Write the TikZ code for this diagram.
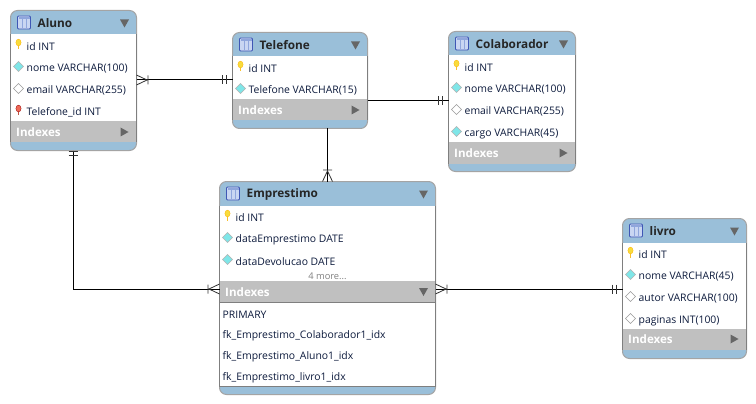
\documentclass[tikz,border=0pt]{standalone}
\usepackage{fontspec}
\setmainfont{Open Sans}
\definecolor{hdr}{HTML}{9ABFD9}
\definecolor{idx}{HTML}{C0C0C0}
\definecolor{edge}{HTML}{A4A4A4}
\definecolor{innerline}{HTML}{7F7F7F}
\definecolor{tri}{HTML}{666666}
\definecolor{ink}{HTML}{0C1A3C}
\definecolor{gold}{HTML}{F8DC3C}
\definecolor{keyred}{HTML}{EE6A58}
\definecolor{cyan2}{HTML}{7FE6E8}
\definecolor{iconfill}{HTML}{C9D6F2}
\definecolor{iconedge}{HTML}{3F57B5}
\definecolor{iconline}{HTML}{8FA6DC}
\tikzset{
  tablebox/.style={draw=edge,line width=1pt,fill=hdr,rounded corners=7pt,inner sep=0pt,outer sep=0pt,anchor=north west},
  rowtxt/.style={anchor=west,inner sep=0pt,font=\fontsize{10.4}{11}\selectfont,text=ink},
  ttl/.style={anchor=west,inner sep=0pt,font=\fontsize{11.8}{12}\selectfont\bfseries,text=black!85},
  idxtxt/.style={anchor=west,inner sep=0pt,font=\fontsize{11.6}{12}\selectfont\bfseries,text=white},
  moretxt/.style={anchor=center,inner sep=0pt,font=\fontsize{9.3}{10}\selectfont,text=black!50},
  rel/.style={line width=1pt,black},
  tickline/.style={line width=0.8pt,black!80},
  pkkey/.pic={
    \fill[gold!70!orange] (-0.9,0) rectangle (0.9,5);
    \fill[gold,draw=orange!60!yellow,line width=0.3pt] (0,-2) ellipse (2.6 and 3.4);
  },
  fkkey/.pic={
    \fill[keyred!80!black] (-0.9,0) rectangle (0.9,5);
    \fill[keyred,draw=red!60!black,line width=0.3pt] (0,-2) ellipse (2.6 and 3.4);
  },
  fulldia/.pic={
    \fill[cyan2,draw=black!30,line width=0.5pt] (-5,0) -- (0,-5) -- (5,0) -- (0,5) -- cycle;
  },
  opendia/.pic={
    \fill[white,draw=black!40,line width=0.6pt] (-5,0) -- (0,-5) -- (5,0) -- (0,5) -- cycle;
  },
  tblicon/.pic={
    \fill[iconfill,draw=iconedge,line width=0.8pt,rounded corners=1pt] (0,0) rectangle (13,13);
    \fill[iconline] (1,1) rectangle (12,3);
    \draw[iconline,line width=0.6pt] (4.5,3) -- (4.5,12) (8.5,3) -- (8.5,12);
  },
  crowfoot/.pic={
    \draw[tickline] (0,-5) -- (10.5,0) -- (0,5) (11.5,-4.5) -- (11.5,4.5);
  },
  twobars/.pic={
    \draw[tickline] (0,-4.5) -- (0,4.5) (4.5,-4.5) -- (4.5,4.5);
  }
}
% name, x1, y1, x2, y2, header bottom, indexes top, indexes bottom, title
\newcommand\ertable[9]{%
  \node[tablebox,minimum width={(#4-#2)*1pt},minimum height={(#5-#3)*1pt}] (#1) at (#2,#3) {};
  \fill[white] (#2,#6) rectangle (#4,#7);
  \fill[idx] (#2,#7) rectangle (#4,#8);
  \ifdim#8pt<\dimexpr#5pt-12pt\relax
    \fill[white] (#2,#8) rectangle (#4,{#5-8});
    \draw[innerline,line width=0.7pt] (#2,#8) -- (#4,#8) (#2,{#5-8}) -- (#4,{#5-8});
    \draw[innerline,line width=1pt] (#2,#8) -- (#2,{#5-8}) (#4,#8) -- (#4,{#5-8});
  \fi
  \draw[innerline,line width=1pt] (#2,#6) -- (#2,#8) (#4,#6) -- (#4,#8);
  \pic at ({#2+7},{#3+5.5}) {tblicon};
  \node[ttl] (#1T) at ({#2+27},{#3+13}) {#9};
  \fill[tri] ({#4-16.5},{#3+9}) -- ({#4-7.5},{#3+9}) -- ({#4-12},{#3+17}) -- cycle;
  \node[idxtxt] (#1I) at ({#2+5.5},{(#7+#8)/2+0.3}) {Indexes};
}
\newcommand\idxright[2]{\fill[tri] ({#1-16},{#2-4.5}) -- ({#1-8},#2) -- ({#1-16},{#2+4.5}) -- cycle;}
\newcommand\idxdown[2]{\fill[tri] ({#1-16.5},{#2-4}) -- ({#1-7.5},{#2-4}) -- ({#1-12},{#2+4}) -- cycle;}
% name, x1, y, icon, text
\newcommand\erow[5]{%
  \pic at ({#2+8},{#3-1.5}) {#4};
  \node[rowtxt] (#1) at ({#2+16},{#3+0.5}) {#5};
}
\begin{document}
\begin{tikzpicture}[x=1pt,y=-1pt]
\useasboundingbox (0,0) rectangle (756,404);
\fill[white] (0,0) rectangle (756,404);

\ertable{aluno}{10.5}{10.5}{136.5}{150.5}{34.5}{121}{142}{Aluno}
\idxright{136.5}{132}
\erow{alunoA}{10.5}{46}{pkkey}{id INT}
\erow{alunoB}{10.5}{68}{fulldia}{nome VARCHAR(100)}
\erow{alunoC}{10.5}{90}{opendia}{email VARCHAR(255)}
\erow{alunoD}{10.5}{112}{fkkey}{Telefone\_id INT}

\ertable{telefone}{232.5}{32.5}{367.5}{128.5}{56.5}{99.5}{120.5}{Telefone}
\idxright{367.5}{110}
\erow{telA}{232.5}{68}{pkkey}{id INT}
\erow{telB}{232.5}{90}{fulldia}{Telefone VARCHAR(15)}

\ertable{colab}{448.5}{31.5}{575.5}{171.5}{55.5}{142.5}{163.5}{Colaborador}
\idxright{575.5}{153}
\erow{colA}{448.5}{67}{pkkey}{id INT}
\erow{colB}{448.5}{89}{fulldia}{nome VARCHAR(100)}
\erow{colC}{448.5}{111}{opendia}{email VARCHAR(255)}
\erow{colD}{448.5}{133}{fulldia}{cargo VARCHAR(45)}

\ertable{emp}{219.5}{181.5}{435.5}{394.5}{205.5}{281}{302.5}{Emprestimo}
\idxdown{435.5}{292}
\erow{empA}{219.5}{217}{pkkey}{id INT}
\erow{empB}{219.5}{239}{fulldia}{dataEmprestimo DATE}
\erow{empC}{219.5}{261}{fulldia}{dataDevolucao DATE}
\node[moretxt] (empM) at (327.5,276.5) {4 more...};
\node[rowtxt] (empI1) at (222.5,314.5) {PRIMARY};
\node[rowtxt] (empI2) at (222.5,335.5) {fk\_Emprestimo\_Colaborador1\_idx};
\node[rowtxt] (empI3) at (222.5,356.5) {fk\_Emprestimo\_Aluno1\_idx};
\node[rowtxt] (empI4) at (222.5,377.5) {fk\_Emprestimo\_livro1\_idx};

\ertable{livro}{622.5}{218.5}{746.5}{358.5}{242.5}{328.5}{350}{livro}
\idxright{746.5}{339}
\erow{livA}{622.5}{254}{pkkey}{id INT}
\erow{livB}{622.5}{276}{fulldia}{nome VARCHAR(45)}
\erow{livC}{622.5}{298}{opendia}{autor VARCHAR(100)}
\erow{livD}{622.5}{320}{opendia}{paginas INT(100)}

% connectors
\coordinate (c1a) at (aluno.east |- 0,80);
\coordinate (c1b) at (telefone.west |- 0,80);
\draw[rel] (c1a) -- (c1b);
\pic at (c1a) {crowfoot};
\pic at ([xshift=-10.5pt]c1b) {twobars};

\coordinate (c2a) at (telefone.east |- 0,101);
\coordinate (c2b) at (colab.west |- 0,101);
\draw[rel] (c2a) -- (c2b);
\pic at ([xshift=-10.5pt]c2b) {twobars};

\coordinate (c3a) at (telefone.south -| 327.5,0);
\coordinate (c3b) at (emp.north -| 327.5,0);
\draw[rel] (c3a) -- (c3b);
\pic[rotate=90] at (c3b) {crowfoot};

\coordinate (c4a) at (aluno.south -| 73,0);
\coordinate (c4b) at (emp.west |- 0,289);
\draw[rel] (c4a) |- (c4b);
\pic[rotate=90] at ([yshift=-5pt]c4a) {twobars};
\pic[rotate=180] at (c4b) {crowfoot};

\coordinate (c5a) at (emp.east |- 0,289);
\coordinate (c5b) at (livro.west |- 0,289);
\draw[rel] (c5a) -- (c5b);
\pic at (c5a) {crowfoot};
\pic at ([xshift=-10.5pt]c5b) {twobars};
\end{tikzpicture}
\end{document}
